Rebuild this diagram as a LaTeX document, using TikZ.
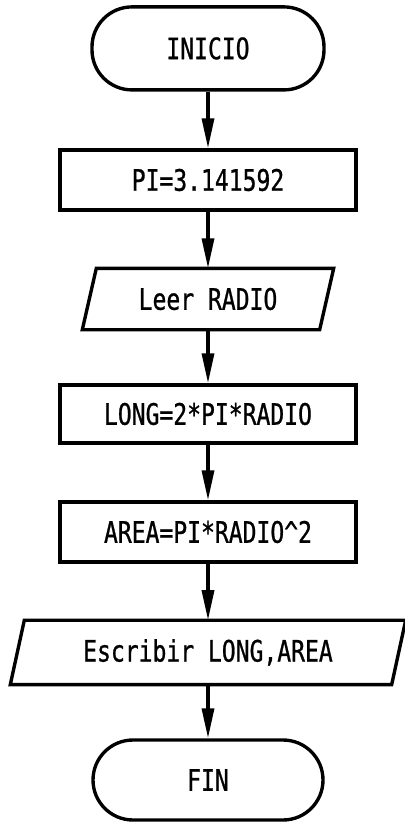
\documentclass[tikz,border=0pt]{standalone}
\usepackage{fontspec}
\setmonofont[FakeStretch=0.78,FakeBold=0.8]{DejaVu Sans Mono}
\usetikzlibrary{arrows.meta}

\begin{document}
\begin{tikzpicture}[
    line width=2.4pt,
    every node/.style={font=\ttfamily\fontsize{21}{24}\selectfont},
    terminal/.style={draw,rounded corners=1cm,minimum width=5.8cm,minimum height=2cm},
    proceso/.style={draw,minimum width=7.4cm,minimum height=1.5cm},
    entrada/.style={inner sep=0pt,minimum height=1.45cm},
    flecha/.style={-{Triangle[length=0.75cm,width=0.3cm]}}
  ]
    \useasboundingbox (0,0) rectangle (10.1,-20.55);

    % inicio
    \node[terminal,minimum height=2.075cm] (inicio) at (5.2,-1.21) {INICIO};

    % asignacion de PI
    \node[proceso] (asigna) at (5.2,-4.5) {PI=3.141592};

    % lectura
    \node[entrada,minimum width=5.85cm] (leer) at (5.2,-7.475) {Leer RADIO};
    \draw ([xshift=0.175cm]leer.north west) -- ([xshift=0.175cm]leer.north east)
      -- ([xshift=-0.175cm]leer.south east) -- ([xshift=-0.175cm]leer.south west) -- cycle;

    % calculos
    \node[proceso,minimum height=1.45cm] (longitud) at (5.2,-10.35) {LONG=2*PI*RADIO};
    \node[proceso] (area) at (5.2,-13.3) {AREA=PI*RADIO\textasciicircum{}2};

    % escritura
    \node[entrada,minimum width=9.45cm,minimum height=1.525cm] (escribir) at (5.2,-16.31) {Escribir LONG,AREA};
    \draw ([xshift=0.175cm]escribir.north west) -- ([xshift=0.175cm]escribir.north east)
      -- ([xshift=-0.175cm]escribir.south east) -- ([xshift=-0.175cm]escribir.south west) -- cycle;

    % fin
    \node[terminal,minimum width=5.75cm] (fin) at (5.2,-19.5) {FIN};

    % flechas
    \foreach \a/\b in {inicio/asigna,asigna/leer,leer/longitud,longitud/area,area/escribir,escribir/fin}{
      \draw[flecha] (\a) -- (\b);
    }
  \end{tikzpicture}
\end{document}
